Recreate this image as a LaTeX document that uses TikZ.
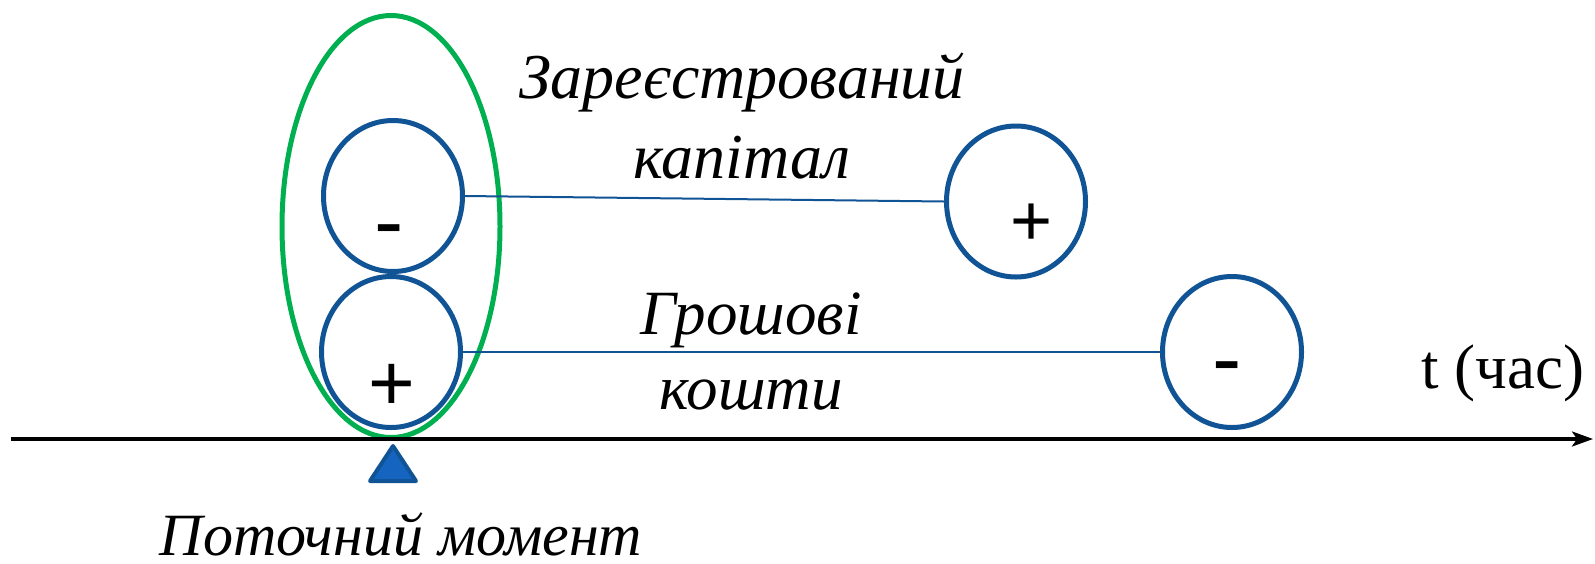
\documentclass[tikz,border=0pt]{standalone}
\usepackage{fontspec}
\setmainfont{Liberation Serif}
\newfontfamily\signfont{Liberation Sans}
\usetikzlibrary{shapes.geometric,arrows.meta}

\definecolor{ringblue}{RGB}{16,84,150}
\definecolor{ringgreen}{RGB}{0,176,80}
\definecolor{markblue}{RGB}{21,101,192}

\tikzset{every picture/.style={line width=0.75pt}}
\tikzset{
  ring/.style={ellipse,draw=ringblue,line width=2.5pt,fill=white,inner sep=0pt,minimum width=69.5pt,minimum height=75.5pt},
  link/.style={draw=ringblue,line width=1pt},
  sign/.style={inner sep=0pt,anchor=base},
  label/.style={font=\itshape\fontsize{32}{40}\selectfont,align=center,inner sep=0pt}
}

\begin{document}
\begin{tikzpicture}[x=0.5pt,y=0.5pt,yscale=-1,xscale=1]
\useasboundingbox (0,0) rectangle (1595,563);
\fill[white] (0,0) rectangle (1595,563);

%Shape: Ellipse (now)
\node [ellipse,draw=ringgreen,line width=2.5pt,inner sep=0pt,minimum width=109pt,minimum height=211pt] (nowring) at (391,226.5) {};

%Shape: Circles
\node [ring] (capleft) at (393,196) {};
\node [ring] (cashleft) at (391,352) {};
\node [ring] (capright) at (1016,201.5) {};
\node [ring] (cashright) at (1232,352) {};

%Straight Lines
\draw [link] (capleft.east) -- (capright.west);
\draw [link] (cashleft.east) -- (cashright.west);

% Signs
\node [sign,font=\signfont\fontsize{44}{44}\selectfont] (capleftsign) at (389,251) {-};
\node [sign,font=\signfont\fontsize{40}{40}\selectfont] (cashleftsign) at (391.5,410.5) {+};
\node [sign,font=\signfont\fontsize{36}{36}\selectfont] (caprightsign) at (1031.5,245.5) {+};
\node [sign,font=\signfont\fontsize{44}{44}\selectfont] (cashrightsign) at (1227.5,388) {-};

%Axis
\coordinate (axstart) at (11,439);
\coordinate (axend) at (1593,439);
\draw [line width=1.6pt,-{Stealth[length=10.5pt,width=7.5pt,inset=2.5pt]}] (axstart) -- (axend);

%Shape: Triangle
\draw [draw=ringblue,fill=markblue,line width=2pt,line join=round] (393,446) -- (416,481) -- (370,481) -- cycle;

% Text Node
\node [label] (captext) at (742,116) {Зареєстрований\\капітал};
% Text Node
\node [label,font=\itshape\fontsize{31.5}{37.5}\selectfont] (cashtext) at (751,352) {Грошові\\кошти};
% Text Node
\node [label,font=\itshape\fontsize{30}{36}\selectfont,anchor=base] (nowtext) at (401,555) {Поточний момент};
% Text Node
\node [font=\fontsize{31.5}{36}\selectfont,inner sep=0pt,anchor=base] (timetext) at (1503,388) {t (час)};

\end{tikzpicture}
\end{document}
